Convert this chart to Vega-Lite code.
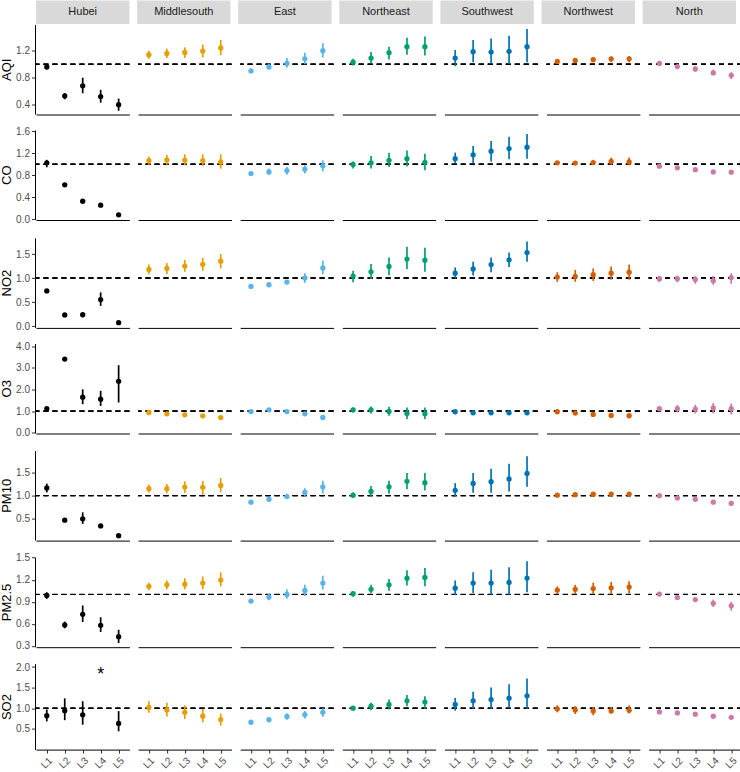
{
  "$schema": "https://vega.github.io/schema/vega-lite/v6.json",
  "background": "white",
  "padding": {"left": 0, "top": 0.5, "right": 0, "bottom": 0},
  "config": {
    "font": "Liberation Sans",
    "view": {"stroke": null},
    "axis": {"domainColor": "black", "domainWidth": 1, "tickColor": "#333333", "tickWidth": 1, "labelColor": "#4D4D4D", "labelFontSize": 10, "titleFontSize": 13, "titleFontWeight": "normal", "titleColor": "black", "grid": false, "tickSize": 3.5, "labelOverlap": false},
    "axisY": {"labelPadding": 2, "titlePadding": 2.5, "tickCount": 12},
    "axisX": {"labelPadding": 2}
  },
  "datasets": {
    "d": [
      {"region":"Hubei","pollutant":"AQI","level":"L1","mean":0.96,"lo":0.92,"hi":0.99},
      {"region":"Hubei","pollutant":"AQI","level":"L2","mean":0.53,"lo":0.48,"hi":0.57},
      {"region":"Hubei","pollutant":"AQI","level":"L3","mean":0.68,"lo":0.57,"hi":0.80},
      {"region":"Hubei","pollutant":"AQI","level":"L4","mean":0.52,"lo":0.43,"hi":0.62},
      {"region":"Hubei","pollutant":"AQI","level":"L5","mean":0.40,"lo":0.31,"hi":0.49},
      {"region":"Middlesouth","pollutant":"AQI","level":"L1","mean":1.14,"lo":1.08,"hi":1.20},
      {"region":"Middlesouth","pollutant":"AQI","level":"L2","mean":1.16,"lo":1.09,"hi":1.23},
      {"region":"Middlesouth","pollutant":"AQI","level":"L3","mean":1.175,"lo":1.09,"hi":1.25},
      {"region":"Middlesouth","pollutant":"AQI","level":"L4","mean":1.195,"lo":1.10,"hi":1.29},
      {"region":"Middlesouth","pollutant":"AQI","level":"L5","mean":1.24,"lo":1.13,"hi":1.36},
      {"region":"East","pollutant":"AQI","level":"L1","mean":0.90,"lo":0.88,"hi":0.92},
      {"region":"East","pollutant":"AQI","level":"L2","mean":0.96,"lo":0.92,"hi":1.01},
      {"region":"East","pollutant":"AQI","level":"L3","mean":1.01,"lo":0.95,"hi":1.09},
      {"region":"East","pollutant":"AQI","level":"L4","mean":1.08,"lo":1.00,"hi":1.17},
      {"region":"East","pollutant":"AQI","level":"L5","mean":1.20,"lo":1.10,"hi":1.31},
      {"region":"Northeast","pollutant":"AQI","level":"L1","mean":1.03,"lo":0.98,"hi":1.08},
      {"region":"Northeast","pollutant":"AQI","level":"L2","mean":1.09,"lo":1.01,"hi":1.18},
      {"region":"Northeast","pollutant":"AQI","level":"L3","mean":1.17,"lo":1.07,"hi":1.26},
      {"region":"Northeast","pollutant":"AQI","level":"L4","mean":1.26,"lo":1.14,"hi":1.39},
      {"region":"Northeast","pollutant":"AQI","level":"L5","mean":1.26,"lo":1.13,"hi":1.41},
      {"region":"Southwest","pollutant":"AQI","level":"L1","mean":1.09,"lo":0.97,"hi":1.21},
      {"region":"Southwest","pollutant":"AQI","level":"L2","mean":1.185,"lo":1.03,"hi":1.36},
      {"region":"Southwest","pollutant":"AQI","level":"L3","mean":1.18,"lo":1.01,"hi":1.38},
      {"region":"Southwest","pollutant":"AQI","level":"L4","mean":1.19,"lo":1.00,"hi":1.42},
      {"region":"Southwest","pollutant":"AQI","level":"L5","mean":1.26,"lo":1.03,"hi":1.52},
      {"region":"Northwest","pollutant":"AQI","level":"L1","mean":1.04,"lo":1.01,"hi":1.06},
      {"region":"Northwest","pollutant":"AQI","level":"L2","mean":1.056,"lo":1.02,"hi":1.08},
      {"region":"Northwest","pollutant":"AQI","level":"L3","mean":1.067,"lo":1.03,"hi":1.10},
      {"region":"Northwest","pollutant":"AQI","level":"L4","mean":1.08,"lo":1.03,"hi":1.11},
      {"region":"Northwest","pollutant":"AQI","level":"L5","mean":1.08,"lo":1.03,"hi":1.12},
      {"region":"North","pollutant":"AQI","level":"L1","mean":1.01,"lo":0.99,"hi":1.03},
      {"region":"North","pollutant":"AQI","level":"L2","mean":0.965,"lo":0.93,"hi":0.99},
      {"region":"North","pollutant":"AQI","level":"L3","mean":0.93,"lo":0.89,"hi":0.97},
      {"region":"North","pollutant":"AQI","level":"L4","mean":0.87,"lo":0.84,"hi":0.92},
      {"region":"North","pollutant":"AQI","level":"L5","mean":0.835,"lo":0.78,"hi":0.88},

      {"region":"Hubei","pollutant":"CO","level":"L1","mean":1.025,"lo":0.945,"hi":1.08},
      {"region":"Hubei","pollutant":"CO","level":"L2","mean":0.625,"lo":0.60,"hi":0.65},
      {"region":"Hubei","pollutant":"CO","level":"L3","mean":0.327,"lo":0.31,"hi":0.345},
      {"region":"Hubei","pollutant":"CO","level":"L4","mean":0.255,"lo":0.24,"hi":0.27},
      {"region":"Hubei","pollutant":"CO","level":"L5","mean":0.08,"lo":0.065,"hi":0.095},
      {"region":"Middlesouth","pollutant":"CO","level":"L1","mean":1.067,"lo":0.99,"hi":1.14},
      {"region":"Middlesouth","pollutant":"CO","level":"L2","mean":1.08,"lo":0.99,"hi":1.17},
      {"region":"Middlesouth","pollutant":"CO","level":"L3","mean":1.075,"lo":0.98,"hi":1.18},
      {"region":"Middlesouth","pollutant":"CO","level":"L4","mean":1.067,"lo":0.97,"hi":1.18},
      {"region":"Middlesouth","pollutant":"CO","level":"L5","mean":1.04,"lo":0.92,"hi":1.18},
      {"region":"East","pollutant":"CO","level":"L1","mean":0.83,"lo":0.81,"hi":0.85},
      {"region":"East","pollutant":"CO","level":"L2","mean":0.86,"lo":0.81,"hi":0.92},
      {"region":"East","pollutant":"CO","level":"L3","mean":0.885,"lo":0.81,"hi":0.95},
      {"region":"East","pollutant":"CO","level":"L4","mean":0.91,"lo":0.83,"hi":0.98},
      {"region":"East","pollutant":"CO","level":"L5","mean":0.97,"lo":0.87,"hi":1.07},
      {"region":"Northeast","pollutant":"CO","level":"L1","mean":0.995,"lo":0.92,"hi":1.05},
      {"region":"Northeast","pollutant":"CO","level":"L2","mean":1.025,"lo":0.92,"hi":1.15},
      {"region":"Northeast","pollutant":"CO","level":"L3","mean":1.07,"lo":0.95,"hi":1.21},
      {"region":"Northeast","pollutant":"CO","level":"L4","mean":1.10,"lo":0.96,"hi":1.25},
      {"region":"Northeast","pollutant":"CO","level":"L5","mean":1.035,"lo":0.89,"hi":1.19},
      {"region":"Southwest","pollutant":"CO","level":"L1","mean":1.10,"lo":1.01,"hi":1.21},
      {"region":"Southwest","pollutant":"CO","level":"L2","mean":1.17,"lo":1.02,"hi":1.33},
      {"region":"Southwest","pollutant":"CO","level":"L3","mean":1.236,"lo":1.05,"hi":1.42},
      {"region":"Southwest","pollutant":"CO","level":"L4","mean":1.285,"lo":1.09,"hi":1.50},
      {"region":"Southwest","pollutant":"CO","level":"L5","mean":1.31,"lo":1.10,"hi":1.55},
      {"region":"Northwest","pollutant":"CO","level":"L1","mean":1.025,"lo":1.00,"hi":1.05},
      {"region":"Northwest","pollutant":"CO","level":"L2","mean":1.02,"lo":0.99,"hi":1.05},
      {"region":"Northwest","pollutant":"CO","level":"L3","mean":1.03,"lo":0.99,"hi":1.08},
      {"region":"Northwest","pollutant":"CO","level":"L4","mean":1.05,"lo":0.99,"hi":1.12},
      {"region":"Northwest","pollutant":"CO","level":"L5","mean":1.04,"lo":0.98,"hi":1.12},
      {"region":"North","pollutant":"CO","level":"L1","mean":0.964,"lo":0.94,"hi":0.99},
      {"region":"North","pollutant":"CO","level":"L2","mean":0.935,"lo":0.91,"hi":0.96},
      {"region":"North","pollutant":"CO","level":"L3","mean":0.90,"lo":0.875,"hi":0.925},
      {"region":"North","pollutant":"CO","level":"L4","mean":0.86,"lo":0.835,"hi":0.885},
      {"region":"North","pollutant":"CO","level":"L5","mean":0.855,"lo":0.83,"hi":0.88},

      {"region":"Hubei","pollutant":"NO2","level":"L1","mean":0.73,"lo":0.70,"hi":0.76},
      {"region":"Hubei","pollutant":"NO2","level":"L2","mean":0.23,"lo":0.20,"hi":0.26},
      {"region":"Hubei","pollutant":"NO2","level":"L3","mean":0.235,"lo":0.205,"hi":0.265},
      {"region":"Hubei","pollutant":"NO2","level":"L4","mean":0.55,"lo":0.42,"hi":0.70},
      {"region":"Hubei","pollutant":"NO2","level":"L5","mean":0.07,"lo":0.04,"hi":0.10},
      {"region":"Middlesouth","pollutant":"NO2","level":"L1","mean":1.18,"lo":1.08,"hi":1.28},
      {"region":"Middlesouth","pollutant":"NO2","level":"L2","mean":1.20,"lo":1.08,"hi":1.31},
      {"region":"Middlesouth","pollutant":"NO2","level":"L3","mean":1.25,"lo":1.13,"hi":1.38},
      {"region":"Middlesouth","pollutant":"NO2","level":"L4","mean":1.285,"lo":1.15,"hi":1.42},
      {"region":"Middlesouth","pollutant":"NO2","level":"L5","mean":1.35,"lo":1.20,"hi":1.50},
      {"region":"East","pollutant":"NO2","level":"L1","mean":0.825,"lo":0.80,"hi":0.85},
      {"region":"East","pollutant":"NO2","level":"L2","mean":0.86,"lo":0.83,"hi":0.89},
      {"region":"East","pollutant":"NO2","level":"L3","mean":0.915,"lo":0.87,"hi":0.96},
      {"region":"East","pollutant":"NO2","level":"L4","mean":1.00,"lo":0.90,"hi":1.10},
      {"region":"East","pollutant":"NO2","level":"L5","mean":1.21,"lo":1.08,"hi":1.36},
      {"region":"Northeast","pollutant":"NO2","level":"L1","mean":1.04,"lo":0.91,"hi":1.15},
      {"region":"Northeast","pollutant":"NO2","level":"L2","mean":1.13,"lo":0.98,"hi":1.29},
      {"region":"Northeast","pollutant":"NO2","level":"L3","mean":1.24,"lo":1.06,"hi":1.43},
      {"region":"Northeast","pollutant":"NO2","level":"L4","mean":1.395,"lo":1.19,"hi":1.65},
      {"region":"Northeast","pollutant":"NO2","level":"L5","mean":1.37,"lo":1.13,"hi":1.63},
      {"region":"Southwest","pollutant":"NO2","level":"L1","mean":1.10,"lo":0.99,"hi":1.22},
      {"region":"Southwest","pollutant":"NO2","level":"L2","mean":1.19,"lo":1.05,"hi":1.34},
      {"region":"Southwest","pollutant":"NO2","level":"L3","mean":1.28,"lo":1.12,"hi":1.43},
      {"region":"Southwest","pollutant":"NO2","level":"L4","mean":1.38,"lo":1.23,"hi":1.53},
      {"region":"Southwest","pollutant":"NO2","level":"L5","mean":1.53,"lo":1.34,"hi":1.76},
      {"region":"Northwest","pollutant":"NO2","level":"L1","mean":1.02,"lo":0.92,"hi":1.12},
      {"region":"Northwest","pollutant":"NO2","level":"L2","mean":1.035,"lo":0.92,"hi":1.17},
      {"region":"Northwest","pollutant":"NO2","level":"L3","mean":1.07,"lo":0.94,"hi":1.20},
      {"region":"Northwest","pollutant":"NO2","level":"L4","mean":1.10,"lo":0.965,"hi":1.24},
      {"region":"Northwest","pollutant":"NO2","level":"L5","mean":1.12,"lo":0.965,"hi":1.28},
      {"region":"North","pollutant":"NO2","level":"L1","mean":0.985,"lo":0.92,"hi":1.04},
      {"region":"North","pollutant":"NO2","level":"L2","mean":0.985,"lo":0.91,"hi":1.05},
      {"region":"North","pollutant":"NO2","level":"L3","mean":0.97,"lo":0.88,"hi":1.04},
      {"region":"North","pollutant":"NO2","level":"L4","mean":0.945,"lo":0.86,"hi":1.04},
      {"region":"North","pollutant":"NO2","level":"L5","mean":1.01,"lo":0.88,"hi":1.10},

      {"region":"Hubei","pollutant":"O3","level":"L1","mean":1.11,"lo":1.04,"hi":1.18},
      {"region":"Hubei","pollutant":"O3","level":"L2","mean":3.41,"lo":3.35,"hi":3.47},
      {"region":"Hubei","pollutant":"O3","level":"L3","mean":1.645,"lo":1.32,"hi":2.01},
      {"region":"Hubei","pollutant":"O3","level":"L4","mean":1.55,"lo":1.24,"hi":1.94},
      {"region":"Hubei","pollutant":"O3","level":"L5","mean":2.38,"lo":1.40,"hi":3.13},
      {"region":"Middlesouth","pollutant":"O3","level":"L1","mean":0.935,"lo":0.87,"hi":1.00},
      {"region":"Middlesouth","pollutant":"O3","level":"L2","mean":0.875,"lo":0.81,"hi":0.94},
      {"region":"Middlesouth","pollutant":"O3","level":"L3","mean":0.83,"lo":0.76,"hi":0.90},
      {"region":"Middlesouth","pollutant":"O3","level":"L4","mean":0.78,"lo":0.71,"hi":0.85},
      {"region":"Middlesouth","pollutant":"O3","level":"L5","mean":0.70,"lo":0.63,"hi":0.77},
      {"region":"East","pollutant":"O3","level":"L1","mean":0.98,"lo":0.92,"hi":1.04},
      {"region":"East","pollutant":"O3","level":"L2","mean":1.06,"lo":1.00,"hi":1.12},
      {"region":"East","pollutant":"O3","level":"L3","mean":0.98,"lo":0.92,"hi":1.04},
      {"region":"East","pollutant":"O3","level":"L4","mean":0.875,"lo":0.81,"hi":0.94},
      {"region":"East","pollutant":"O3","level":"L5","mean":0.705,"lo":0.64,"hi":0.77},
      {"region":"Northeast","pollutant":"O3","level":"L1","mean":1.06,"lo":0.935,"hi":1.167},
      {"region":"Northeast","pollutant":"O3","level":"L2","mean":1.06,"lo":0.89,"hi":1.21},
      {"region":"Northeast","pollutant":"O3","level":"L3","mean":0.983,"lo":0.78,"hi":1.20},
      {"region":"Northeast","pollutant":"O3","level":"L4","mean":0.89,"lo":0.63,"hi":1.167},
      {"region":"Northeast","pollutant":"O3","level":"L5","mean":0.88,"lo":0.63,"hi":1.167},
      {"region":"Southwest","pollutant":"O3","level":"L1","mean":0.97,"lo":0.91,"hi":1.03},
      {"region":"Southwest","pollutant":"O3","level":"L2","mean":0.92,"lo":0.86,"hi":0.98},
      {"region":"Southwest","pollutant":"O3","level":"L3","mean":0.92,"lo":0.86,"hi":0.98},
      {"region":"Southwest","pollutant":"O3","level":"L4","mean":0.92,"lo":0.86,"hi":0.98},
      {"region":"Southwest","pollutant":"O3","level":"L5","mean":0.92,"lo":0.86,"hi":0.98},
      {"region":"Northwest","pollutant":"O3","level":"L1","mean":0.97,"lo":0.91,"hi":1.03},
      {"region":"Northwest","pollutant":"O3","level":"L2","mean":0.91,"lo":0.85,"hi":0.97},
      {"region":"Northwest","pollutant":"O3","level":"L3","mean":0.845,"lo":0.78,"hi":0.91},
      {"region":"Northwest","pollutant":"O3","level":"L4","mean":0.80,"lo":0.74,"hi":0.86},
      {"region":"Northwest","pollutant":"O3","level":"L5","mean":0.785,"lo":0.72,"hi":0.85},
      {"region":"North","pollutant":"O3","level":"L1","mean":1.11,"lo":1.05,"hi":1.17},
      {"region":"North","pollutant":"O3","level":"L2","mean":1.11,"lo":0.94,"hi":1.28},
      {"region":"North","pollutant":"O3","level":"L3","mean":1.09,"lo":0.89,"hi":1.29},
      {"region":"North","pollutant":"O3","level":"L4","mean":1.15,"lo":0.89,"hi":1.37},
      {"region":"North","pollutant":"O3","level":"L5","mean":1.11,"lo":0.84,"hi":1.35},

      {"region":"Hubei","pollutant":"PM10","level":"L1","mean":1.165,"lo":1.07,"hi":1.26},
      {"region":"Hubei","pollutant":"PM10","level":"L2","mean":0.47,"lo":0.44,"hi":0.50},
      {"region":"Hubei","pollutant":"PM10","level":"L3","mean":0.50,"lo":0.39,"hi":0.64},
      {"region":"Hubei","pollutant":"PM10","level":"L4","mean":0.345,"lo":0.30,"hi":0.39},
      {"region":"Hubei","pollutant":"PM10","level":"L5","mean":0.135,"lo":0.11,"hi":0.16},
      {"region":"Middlesouth","pollutant":"PM10","level":"L1","mean":1.15,"lo":1.07,"hi":1.24},
      {"region":"Middlesouth","pollutant":"PM10","level":"L2","mean":1.15,"lo":1.05,"hi":1.25},
      {"region":"Middlesouth","pollutant":"PM10","level":"L3","mean":1.185,"lo":1.06,"hi":1.31},
      {"region":"Middlesouth","pollutant":"PM10","level":"L4","mean":1.18,"lo":1.02,"hi":1.32},
      {"region":"Middlesouth","pollutant":"PM10","level":"L5","mean":1.22,"lo":1.07,"hi":1.38},
      {"region":"East","pollutant":"PM10","level":"L1","mean":0.86,"lo":0.83,"hi":0.89},
      {"region":"East","pollutant":"PM10","level":"L2","mean":0.92,"lo":0.89,"hi":0.95},
      {"region":"East","pollutant":"PM10","level":"L3","mean":0.98,"lo":0.93,"hi":1.04},
      {"region":"East","pollutant":"PM10","level":"L4","mean":1.07,"lo":0.98,"hi":1.16},
      {"region":"East","pollutant":"PM10","level":"L5","mean":1.19,"lo":1.05,"hi":1.32},
      {"region":"Northeast","pollutant":"PM10","level":"L1","mean":1.01,"lo":0.95,"hi":1.07},
      {"region":"Northeast","pollutant":"PM10","level":"L2","mean":1.09,"lo":0.98,"hi":1.21},
      {"region":"Northeast","pollutant":"PM10","level":"L3","mean":1.19,"lo":1.04,"hi":1.32},
      {"region":"Northeast","pollutant":"PM10","level":"L4","mean":1.31,"lo":1.14,"hi":1.49},
      {"region":"Northeast","pollutant":"PM10","level":"L5","mean":1.28,"lo":1.11,"hi":1.49},
      {"region":"Southwest","pollutant":"PM10","level":"L1","mean":1.115,"lo":0.985,"hi":1.27},
      {"region":"Southwest","pollutant":"PM10","level":"L2","mean":1.265,"lo":1.06,"hi":1.49},
      {"region":"Southwest","pollutant":"PM10","level":"L3","mean":1.30,"lo":1.06,"hi":1.58},
      {"region":"Southwest","pollutant":"PM10","level":"L4","mean":1.36,"lo":1.09,"hi":1.69},
      {"region":"Southwest","pollutant":"PM10","level":"L5","mean":1.48,"lo":1.19,"hi":1.85},
      {"region":"Northwest","pollutant":"PM10","level":"L1","mean":1.01,"lo":0.98,"hi":1.04},
      {"region":"Northwest","pollutant":"PM10","level":"L2","mean":1.02,"lo":0.99,"hi":1.05},
      {"region":"Northwest","pollutant":"PM10","level":"L3","mean":1.03,"lo":1.00,"hi":1.06},
      {"region":"Northwest","pollutant":"PM10","level":"L4","mean":1.035,"lo":1.00,"hi":1.07},
      {"region":"Northwest","pollutant":"PM10","level":"L5","mean":1.035,"lo":1.00,"hi":1.07},
      {"region":"North","pollutant":"PM10","level":"L1","mean":1.00,"lo":0.97,"hi":1.03},
      {"region":"North","pollutant":"PM10","level":"L2","mean":0.95,"lo":0.92,"hi":0.98},
      {"region":"North","pollutant":"PM10","level":"L3","mean":0.92,"lo":0.89,"hi":0.95},
      {"region":"North","pollutant":"PM10","level":"L4","mean":0.86,"lo":0.82,"hi":0.90},
      {"region":"North","pollutant":"PM10","level":"L5","mean":0.835,"lo":0.78,"hi":0.89},

      {"region":"Hubei","pollutant":"PM2.5","level":"L1","mean":0.987,"lo":0.94,"hi":1.03},
      {"region":"Hubei","pollutant":"PM2.5","level":"L2","mean":0.585,"lo":0.54,"hi":0.63},
      {"region":"Hubei","pollutant":"PM2.5","level":"L3","mean":0.73,"lo":0.625,"hi":0.85},
      {"region":"Hubei","pollutant":"PM2.5","level":"L4","mean":0.58,"lo":0.49,"hi":0.69},
      {"region":"Hubei","pollutant":"PM2.5","level":"L5","mean":0.425,"lo":0.34,"hi":0.52},
      {"region":"Middlesouth","pollutant":"PM2.5","level":"L1","mean":1.11,"lo":1.06,"hi":1.16},
      {"region":"Middlesouth","pollutant":"PM2.5","level":"L2","mean":1.13,"lo":1.07,"hi":1.19},
      {"region":"Middlesouth","pollutant":"PM2.5","level":"L3","mean":1.14,"lo":1.07,"hi":1.22},
      {"region":"Middlesouth","pollutant":"PM2.5","level":"L4","mean":1.155,"lo":1.07,"hi":1.245},
      {"region":"Middlesouth","pollutant":"PM2.5","level":"L5","mean":1.195,"lo":1.11,"hi":1.30},
      {"region":"East","pollutant":"PM2.5","level":"L1","mean":0.91,"lo":0.89,"hi":0.93},
      {"region":"East","pollutant":"PM2.5","level":"L2","mean":0.965,"lo":0.92,"hi":1.01},
      {"region":"East","pollutant":"PM2.5","level":"L3","mean":1.00,"lo":0.94,"hi":1.07},
      {"region":"East","pollutant":"PM2.5","level":"L4","mean":1.055,"lo":0.98,"hi":1.13},
      {"region":"East","pollutant":"PM2.5","level":"L5","mean":1.155,"lo":1.065,"hi":1.255},
      {"region":"Northeast","pollutant":"PM2.5","level":"L1","mean":1.01,"lo":0.97,"hi":1.04},
      {"region":"Northeast","pollutant":"PM2.5","level":"L2","mean":1.07,"lo":1.02,"hi":1.13},
      {"region":"Northeast","pollutant":"PM2.5","level":"L3","mean":1.13,"lo":1.05,"hi":1.21},
      {"region":"Northeast","pollutant":"PM2.5","level":"L4","mean":1.22,"lo":1.12,"hi":1.33},
      {"region":"Northeast","pollutant":"PM2.5","level":"L5","mean":1.23,"lo":1.11,"hi":1.36},
      {"region":"Southwest","pollutant":"PM2.5","level":"L1","mean":1.085,"lo":0.99,"hi":1.19},
      {"region":"Southwest","pollutant":"PM2.5","level":"L2","mean":1.155,"lo":1.02,"hi":1.30},
      {"region":"Southwest","pollutant":"PM2.5","level":"L3","mean":1.155,"lo":0.995,"hi":1.335},
      {"region":"Southwest","pollutant":"PM2.5","level":"L4","mean":1.163,"lo":0.996,"hi":1.37},
      {"region":"Southwest","pollutant":"PM2.5","level":"L5","mean":1.223,"lo":1.03,"hi":1.45},
      {"region":"Northwest","pollutant":"PM2.5","level":"L1","mean":1.06,"lo":1.01,"hi":1.11},
      {"region":"Northwest","pollutant":"PM2.5","level":"L2","mean":1.07,"lo":1.01,"hi":1.13},
      {"region":"Northwest","pollutant":"PM2.5","level":"L3","mean":1.08,"lo":1.01,"hi":1.16},
      {"region":"Northwest","pollutant":"PM2.5","level":"L4","mean":1.09,"lo":1.01,"hi":1.17},
      {"region":"Northwest","pollutant":"PM2.5","level":"L5","mean":1.10,"lo":1.015,"hi":1.18},
      {"region":"North","pollutant":"PM2.5","level":"L1","mean":1.005,"lo":0.98,"hi":1.03},
      {"region":"North","pollutant":"PM2.5","level":"L2","mean":0.96,"lo":0.935,"hi":0.985},
      {"region":"North","pollutant":"PM2.5","level":"L3","mean":0.93,"lo":0.90,"hi":0.96},
      {"region":"North","pollutant":"PM2.5","level":"L4","mean":0.88,"lo":0.83,"hi":0.93},
      {"region":"North","pollutant":"PM2.5","level":"L5","mean":0.845,"lo":0.78,"hi":0.90},

      {"region":"Hubei","pollutant":"SO2","level":"L1","mean":0.82,"lo":0.68,"hi":0.97},
      {"region":"Hubei","pollutant":"SO2","level":"L2","mean":0.94,"lo":0.71,"hi":1.24},
      {"region":"Hubei","pollutant":"SO2","level":"L3","mean":0.84,"lo":0.60,"hi":1.17},
      {"region":"Hubei","pollutant":"SO2","level":"L4","mean":null,"lo":null,"hi":null,"note":"*"},
      {"region":"Hubei","pollutant":"SO2","level":"L5","mean":0.63,"lo":0.44,"hi":0.93},
      {"region":"Middlesouth","pollutant":"SO2","level":"L1","mean":1.02,"lo":0.89,"hi":1.17},
      {"region":"Middlesouth","pollutant":"SO2","level":"L2","mean":0.96,"lo":0.80,"hi":1.13},
      {"region":"Middlesouth","pollutant":"SO2","level":"L3","mean":0.90,"lo":0.74,"hi":1.07},
      {"region":"Middlesouth","pollutant":"SO2","level":"L4","mean":0.805,"lo":0.66,"hi":0.985},
      {"region":"Middlesouth","pollutant":"SO2","level":"L5","mean":0.725,"lo":0.58,"hi":0.87},
      {"region":"East","pollutant":"SO2","level":"L1","mean":0.66,"lo":0.63,"hi":0.69},
      {"region":"East","pollutant":"SO2","level":"L2","mean":0.72,"lo":0.69,"hi":0.75},
      {"region":"East","pollutant":"SO2","level":"L3","mean":0.80,"lo":0.72,"hi":0.87},
      {"region":"East","pollutant":"SO2","level":"L4","mean":0.845,"lo":0.75,"hi":0.93},
      {"region":"East","pollutant":"SO2","level":"L5","mean":0.90,"lo":0.79,"hi":1.00},
      {"region":"Northeast","pollutant":"SO2","level":"L1","mean":1.00,"lo":0.97,"hi":1.03},
      {"region":"Northeast","pollutant":"SO2","level":"L2","mean":1.05,"lo":0.95,"hi":1.13},
      {"region":"Northeast","pollutant":"SO2","level":"L3","mean":1.09,"lo":0.97,"hi":1.21},
      {"region":"Northeast","pollutant":"SO2","level":"L4","mean":1.18,"lo":1.05,"hi":1.32},
      {"region":"Northeast","pollutant":"SO2","level":"L5","mean":1.15,"lo":0.99,"hi":1.29},
      {"region":"Southwest","pollutant":"SO2","level":"L1","mean":1.09,"lo":0.94,"hi":1.25},
      {"region":"Southwest","pollutant":"SO2","level":"L2","mean":1.18,"lo":0.985,"hi":1.40},
      {"region":"Southwest","pollutant":"SO2","level":"L3","mean":1.21,"lo":0.985,"hi":1.50},
      {"region":"Southwest","pollutant":"SO2","level":"L4","mean":1.245,"lo":1.01,"hi":1.58},
      {"region":"Southwest","pollutant":"SO2","level":"L5","mean":1.30,"lo":0.985,"hi":1.72},
      {"region":"Northwest","pollutant":"SO2","level":"L1","mean":0.985,"lo":0.90,"hi":1.07},
      {"region":"Northwest","pollutant":"SO2","level":"L2","mean":0.96,"lo":0.86,"hi":1.05},
      {"region":"Northwest","pollutant":"SO2","level":"L3","mean":0.935,"lo":0.83,"hi":1.03},
      {"region":"Northwest","pollutant":"SO2","level":"L4","mean":0.935,"lo":0.87,"hi":1.03},
      {"region":"Northwest","pollutant":"SO2","level":"L5","mean":0.95,"lo":0.87,"hi":1.07},
      {"region":"North","pollutant":"SO2","level":"L1","mean":0.91,"lo":0.88,"hi":0.94},
      {"region":"North","pollutant":"SO2","level":"L2","mean":0.885,"lo":0.855,"hi":0.915},
      {"region":"North","pollutant":"SO2","level":"L3","mean":0.855,"lo":0.825,"hi":0.885},
      {"region":"North","pollutant":"SO2","level":"L4","mean":0.805,"lo":0.775,"hi":0.835},
      {"region":"North","pollutant":"SO2","level":"L5","mean":0.78,"lo":0.75,"hi":0.81}
    ]
  },
  "data": {"name": "d"},
  "spacing": 11.5,
  "vconcat": [
    {
      "spacing": 0,
      "vconcat": [
        {
          "transform": [{"aggregate": [{"op": "count", "as": "n"}], "groupby": ["region"]}],
          "facet": {"column": {"field": "region", "type": "nominal", "sort": ["Hubei","Middlesouth","East","Northeast","Southwest","Northwest","North"], "header": {"title": null, "labels": false}}},
          "spacing": 7.1,
          "spec": {
            "width": 93.4, "height": 23.5,
            "view": {"fill": "#D9D9D9", "stroke": null},
            "mark": {"type": "text", "fontSize": 11, "color": "#1A1A1A", "baseline": "middle"},
            "encoding": {"text": {"field": "region", "type": "nominal"}}
          }
        },
        {
          "transform": [{"filter": "datum.pollutant === 'AQI'"}],
          "facet": {"column": {"field": "region", "type": "nominal", "sort": ["Hubei","Middlesouth","East","Northeast","Southwest","Northwest","North"], "header": {"title": null, "labels": false}}},
          "spacing": 7.1,
          "spec": {
            "width": 93.4, "height": 89.5,
            "layer": [
              {"mark": {"type": "rule", "strokeDash": [5, 4], "color": "black", "strokeWidth": 1}, "encoding": {"y": {"datum": 1, "type": "quantitative", "title": "AQI", "axis": {"values": [0.4, 0.8, 1.2], "format": ".1f", "tickCount": 12}}}},
              {"mark": {"type": "rule", "strokeWidth": 1.7}, "encoding": {
                "x": {"field": "level", "type": "ordinal", "sort": ["L1","L2","L3","L4","L5"], "scale": {"type": "point", "padding": 0.6}, "axis": {"labels": false, "ticks": false, "title": null}},
                "y": {"field": "lo", "type": "quantitative", "title": "AQI", "axis": {"values": [0.4, 0.8, 1.2], "format": ".1f", "tickCount": 12}}, "y2": {"field": "hi"},
                "color": {"field": "region", "type": "nominal", "scale": {"domain": ["Hubei","Middlesouth","East","Northeast","Southwest","Northwest","North"], "range": ["#000000","#E69F00","#56B4E9","#009E73","#0072B2","#D55E00","#CC79A7"]}, "legend": null}}},
              {"mark": {"type": "circle", "size": 28, "opacity": 1}, "encoding": {
                "x": {"field": "level", "type": "ordinal", "sort": ["L1","L2","L3","L4","L5"]},
                "y": {"field": "mean", "type": "quantitative", "title": "AQI", "scale": {"domain": [0.262, 1.588], "nice": false, "zero": false}, "axis": {"values": [0.4, 0.8, 1.2], "format": ".1f", "tickCount": 12}},
                "color": {"field": "region", "type": "nominal"}}}
            ]
          }
        }
      ]
    },
    {
      "spacing": 12.9,
      "vconcat": [
        {
          "transform": [{"filter": "datum.pollutant === 'CO'"}],
          "facet": {"column": {"field": "region", "type": "nominal", "sort": ["Hubei","Middlesouth","East","Northeast","Southwest","Northwest","North"], "header": {"title": null, "labels": false}}},
          "spacing": 7.1,
          "spec": {
            "width": 93.4, "height": 89.5,
            "layer": [
              {"mark": {"type": "rule", "strokeDash": [5, 4], "color": "black", "strokeWidth": 1}, "encoding": {"y": {"datum": 1, "type": "quantitative", "title": "CO", "axis": {"values": [0, 0.4, 0.8, 1.2, 1.6], "format": ".1f", "tickCount": 12}}}},
              {"mark": {"type": "rule", "strokeWidth": 1.7}, "encoding": {
                "x": {"field": "level", "type": "ordinal", "sort": ["L1","L2","L3","L4","L5"], "scale": {"type": "point", "padding": 0.6}, "axis": {"labels": false, "ticks": false, "title": null}},
                "y": {"field": "lo", "type": "quantitative", "title": "CO", "axis": {"values": [0, 0.4, 0.8, 1.2, 1.6], "format": ".1f", "tickCount": 12}}, "y2": {"field": "hi"},
                "color": {"field": "region", "type": "nominal", "scale": {"domain": ["Hubei","Middlesouth","East","Northeast","Southwest","Northwest","North"], "range": ["#000000","#E69F00","#56B4E9","#009E73","#0072B2","#D55E00","#CC79A7"]}, "legend": null}}},
              {"mark": {"type": "circle", "size": 28, "opacity": 1}, "encoding": {
                "x": {"field": "level", "type": "ordinal", "sort": ["L1","L2","L3","L4","L5"]},
                "y": {"field": "mean", "type": "quantitative", "title": "CO", "scale": {"domain": [-0.005, 1.622], "nice": false, "zero": false}, "axis": {"values": [0, 0.4, 0.8, 1.2, 1.6], "format": ".1f", "tickCount": 12}},
                "color": {"field": "region", "type": "nominal"}}}
            ]
          }
        },
        {
          "spacing": 8.6,
          "vconcat": [
            {
              "transform": [{"filter": "datum.pollutant === 'NO2'"}],
              "facet": {"column": {"field": "region", "type": "nominal", "sort": ["Hubei","Middlesouth","East","Northeast","Southwest","Northwest","North"], "header": {"title": null, "labels": false}}},
              "spacing": 7.1,
              "spec": {
                "width": 93.4, "height": 89.5,
                "layer": [
                  {"mark": {"type": "rule", "strokeDash": [5, 4], "color": "black", "strokeWidth": 1}, "encoding": {"y": {"datum": 1, "type": "quantitative", "title": "NO2", "axis": {"values": [0, 0.5, 1.0, 1.5], "format": ".1f", "tickCount": 12}}}},
                  {"mark": {"type": "rule", "strokeWidth": 1.7}, "encoding": {
                    "x": {"field": "level", "type": "ordinal", "sort": ["L1","L2","L3","L4","L5"], "scale": {"type": "point", "padding": 0.6}, "axis": {"labels": false, "ticks": false, "title": null}},
                    "y": {"field": "lo", "type": "quantitative", "title": "NO2", "axis": {"values": [0, 0.5, 1.0, 1.5], "format": ".1f", "tickCount": 12}}, "y2": {"field": "hi"},
                    "color": {"field": "region", "type": "nominal", "scale": {"domain": ["Hubei","Middlesouth","East","Northeast","Southwest","Northwest","North"], "range": ["#000000","#E69F00","#56B4E9","#009E73","#0072B2","#D55E00","#CC79A7"]}, "legend": null}}},
                  {"mark": {"type": "circle", "size": 28, "opacity": 1}, "encoding": {
                    "x": {"field": "level", "type": "ordinal", "sort": ["L1","L2","L3","L4","L5"]},
                    "y": {"field": "mean", "type": "quantitative", "title": "NO2", "scale": {"domain": [-0.029, 1.836], "nice": false, "zero": false}, "axis": {"values": [0, 0.5, 1.0, 1.5], "format": ".1f", "tickCount": 12}},
                    "color": {"field": "region", "type": "nominal"}}}
                ]
              }
            },
            {
              "spacing": 12.1,
              "vconcat": [
                {
                  "transform": [{"filter": "datum.pollutant === 'O3'"}],
                  "facet": {"column": {"field": "region", "type": "nominal", "sort": ["Hubei","Middlesouth","East","Northeast","Southwest","Northwest","North"], "header": {"title": null, "labels": false}}},
                  "spacing": 7.1,
                  "spec": {
                    "width": 93.4, "height": 89.5,
                    "layer": [
                      {"mark": {"type": "rule", "strokeDash": [5, 4], "color": "black", "strokeWidth": 1}, "encoding": {"y": {"datum": 1, "type": "quantitative", "title": "O3", "axis": {"values": [0, 1, 2, 3, 4], "format": ".1f", "tickCount": 12}}}},
                      {"mark": {"type": "rule", "strokeWidth": 1.7}, "encoding": {
                        "x": {"field": "level", "type": "ordinal", "sort": ["L1","L2","L3","L4","L5"], "scale": {"type": "point", "padding": 0.6}, "axis": {"labels": false, "ticks": false, "title": null}},
                        "y": {"field": "lo", "type": "quantitative", "title": "O3", "axis": {"values": [0, 1, 2, 3, 4], "format": ".1f", "tickCount": 12}}, "y2": {"field": "hi"},
                        "color": {"field": "region", "type": "nominal", "scale": {"domain": ["Hubei","Middlesouth","East","Northeast","Southwest","Northwest","North"], "range": ["#000000","#E69F00","#56B4E9","#009E73","#0072B2","#D55E00","#CC79A7"]}, "legend": null}}},
                      {"mark": {"type": "circle", "size": 28, "opacity": 1}, "encoding": {
                        "x": {"field": "level", "type": "ordinal", "sort": ["L1","L2","L3","L4","L5"]},
                        "y": {"field": "mean", "type": "quantitative", "title": "O3", "scale": {"domain": [-0.014, 4.133], "nice": false, "zero": false}, "axis": {"values": [0, 1, 2, 3, 4], "format": ".1f", "tickCount": 12}},
                        "color": {"field": "region", "type": "nominal"}}}
                    ]
                  }
                },
                {
                  "spacing": 11.6,
                  "vconcat": [
                    {
                      "transform": [{"filter": "datum.pollutant === 'PM10'"}],
                      "facet": {"column": {"field": "region", "type": "nominal", "sort": ["Hubei","Middlesouth","East","Northeast","Southwest","Northwest","North"], "header": {"title": null, "labels": false}}},
                      "spacing": 7.1,
                      "spec": {
                        "width": 93.4, "height": 89.5,
                        "layer": [
                          {"mark": {"type": "rule", "strokeDash": [5, 4], "color": "black", "strokeWidth": 1}, "encoding": {"y": {"datum": 1, "type": "quantitative", "title": "PM10", "axis": {"values": [0.5, 1.0, 1.5], "format": ".1f", "tickCount": 12}}}},
                          {"mark": {"type": "rule", "strokeWidth": 1.7}, "encoding": {
                            "x": {"field": "level", "type": "ordinal", "sort": ["L1","L2","L3","L4","L5"], "scale": {"type": "point", "padding": 0.6}, "axis": {"labels": false, "ticks": false, "title": null}},
                            "y": {"field": "lo", "type": "quantitative", "title": "PM10", "axis": {"values": [0.5, 1.0, 1.5], "format": ".1f", "tickCount": 12}}, "y2": {"field": "hi"},
                            "color": {"field": "region", "type": "nominal", "scale": {"domain": ["Hubei","Middlesouth","East","Northeast","Southwest","Northwest","North"], "range": ["#000000","#E69F00","#56B4E9","#009E73","#0072B2","#D55E00","#CC79A7"]}, "legend": null}}},
                          {"mark": {"type": "circle", "size": 28, "opacity": 1}, "encoding": {
                            "x": {"field": "level", "type": "ordinal", "sort": ["L1","L2","L3","L4","L5"]},
                            "y": {"field": "mean", "type": "quantitative", "title": "PM10", "scale": {"domain": [0.04, 1.973], "nice": false, "zero": false}, "axis": {"values": [0.5, 1.0, 1.5], "format": ".1f", "tickCount": 12}},
                            "color": {"field": "region", "type": "nominal"}}}
                        ]
                      }
                    },
                    {
                      "spacing": 10.4,
                      "vconcat": [
                        {
                          "transform": [{"filter": "datum.pollutant === 'PM2.5'"}],
                          "facet": {"column": {"field": "region", "type": "nominal", "sort": ["Hubei","Middlesouth","East","Northeast","Southwest","Northwest","North"], "header": {"title": null, "labels": false}}},
                          "spacing": 7.1,
                          "spec": {
                            "width": 93.4, "height": 89.5,
                            "layer": [
                              {"mark": {"type": "rule", "strokeDash": [5, 4], "color": "black", "strokeWidth": 1}, "encoding": {"y": {"datum": 1, "type": "quantitative", "title": "PM2.5", "axis": {"values": [0.3, 0.6, 0.9, 1.2, 1.5], "format": ".1f", "tickCount": 12}}}},
                              {"mark": {"type": "rule", "strokeWidth": 1.7}, "encoding": {
                                "x": {"field": "level", "type": "ordinal", "sort": ["L1","L2","L3","L4","L5"], "scale": {"type": "point", "padding": 0.6}, "axis": {"labels": false, "ticks": false, "title": null}},
                                "y": {"field": "lo", "type": "quantitative", "title": "PM2.5", "axis": {"values": [0.3, 0.6, 0.9, 1.2, 1.5], "format": ".1f", "tickCount": 12}}, "y2": {"field": "hi"},
                                "color": {"field": "region", "type": "nominal", "scale": {"domain": ["Hubei","Middlesouth","East","Northeast","Southwest","Northwest","North"], "range": ["#000000","#E69F00","#56B4E9","#009E73","#0072B2","#D55E00","#CC79A7"]}, "legend": null}}},
                              {"mark": {"type": "circle", "size": 28, "opacity": 1}, "encoding": {
                                "x": {"field": "level", "type": "ordinal", "sort": ["L1","L2","L3","L4","L5"]},
                                "y": {"field": "mean", "type": "quantitative", "title": "PM2.5", "scale": {"domain": [0.29, 1.506], "nice": false, "zero": false}, "axis": {"values": [0.3, 0.6, 0.9, 1.2, 1.5], "format": ".1f", "tickCount": 12}},
                                "color": {"field": "region", "type": "nominal"}}}
                            ]
                          }
                        },
                        {
                          "transform": [{"filter": "datum.pollutant === 'SO2'"}],
                          "facet": {"column": {"field": "region", "type": "nominal", "sort": ["Hubei","Middlesouth","East","Northeast","Southwest","Northwest","North"], "header": {"title": null, "labels": false}}},
                          "spacing": 7.1,
                          "spec": {
                            "width": 93.4, "height": 86,
                            "layer": [
                              {"mark": {"type": "rule", "strokeDash": [5, 4], "color": "black", "strokeWidth": 1}, "encoding": {"y": {"datum": 1, "type": "quantitative", "title": "SO2", "axis": {"values": [0.5, 1.0, 1.5, 2.0], "format": ".1f", "tickCount": 12}}}},
                              {"mark": {"type": "rule", "strokeWidth": 1.7}, "encoding": {
                                "x": {"field": "level", "type": "ordinal", "sort": ["L1","L2","L3","L4","L5"], "scale": {"type": "point", "padding": 0.6}, "axis": {"labelAngle": -45, "ticks": true, "title": null, "labelFontSize": 10}},
                                "y": {"field": "lo", "type": "quantitative", "title": "SO2", "axis": {"values": [0.5, 1.0, 1.5, 2.0], "format": ".1f", "tickCount": 12}}, "y2": {"field": "hi"},
                                "color": {"field": "region", "type": "nominal", "scale": {"domain": ["Hubei","Middlesouth","East","Northeast","Southwest","Northwest","North"], "range": ["#000000","#E69F00","#56B4E9","#009E73","#0072B2","#D55E00","#CC79A7"]}, "legend": null}}},
                              {"mark": {"type": "circle", "size": 28, "opacity": 1}, "encoding": {
                                "x": {"field": "level", "type": "ordinal", "sort": ["L1","L2","L3","L4","L5"]},
                                "y": {"field": "mean", "type": "quantitative", "title": "SO2", "scale": {"domain": [-0.004, 2.083], "nice": false, "zero": false}, "axis": {"values": [0.5, 1.0, 1.5, 2.0], "format": ".1f", "tickCount": 12}},
                                "color": {"field": "region", "type": "nominal"}}},
                              {"transform": [{"filter": "datum.note != null"}], "mark": {"type": "text", "fontSize": 18, "baseline": "alphabetic", "color": "black"}, "encoding": {
                                "x": {"field": "level", "type": "ordinal", "sort": ["L1","L2","L3","L4","L5"]},
                                "y": {"datum": 1.69, "type": "quantitative", "title": "SO2"},
                                "text": {"field": "note", "type": "nominal"}}}
                            ]
                          }
                        }
                      ]
                    }
                  ]
                }
              ]
            }
          ]
        }
      ]
    }
  ]
}
